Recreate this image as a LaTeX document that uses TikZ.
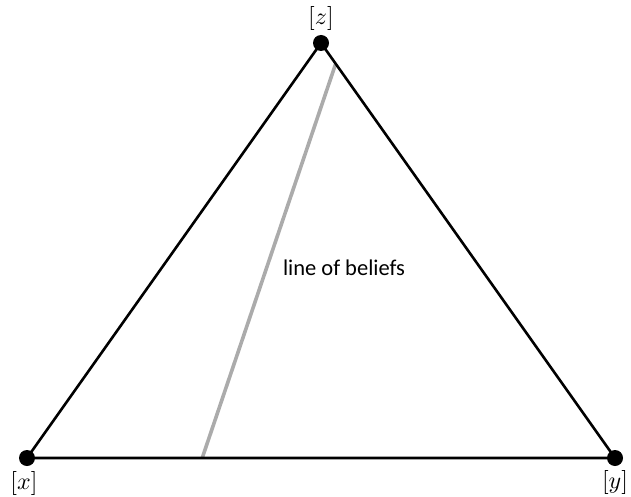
\documentclass[tikz,border=0pt]{standalone}
\usepackage{fontspec}
\newfontfamily\labelfont{Carlito}
\usetikzlibrary{calc}
\begin{document}
\begin{tikzpicture}[x=1pt,y=-1pt,vertex/.style={fill=black},edge/.style={line width=2.6pt,line join=round},belief/.style={line width=3.6pt,draw=black!33},vlabel/.style={scale=2.4}]
\useasboundingbox (0,0) rectangle (631,497);
\coordinate (x) at (27,458);\coordinate (y) at (615,458);\coordinate (z) at (321,43);
\coordinate (b0) at ($(x)!0.298!(y)$);\coordinate (b1) at ($(z)!0.05!(y)$);
\draw[belief] (b0)--(b1);
\draw[edge] (x)--(y)--(z)--cycle;
\foreach \v in {x,y,z}{\fill[vertex] (\v) circle (8);}
\node[vlabel] (lz) at (321,19) {$[z]$};
\node[vlabel] (lx) at (24,483) {$[x]$};
\node[vlabel] (ly) at (615,482) {$[y]$};
\node[font=\labelfont\fontsize{22.5}{27}\selectfont] (lbl) at (344,268) {line of beliefs};
\end{tikzpicture}
\end{document}
